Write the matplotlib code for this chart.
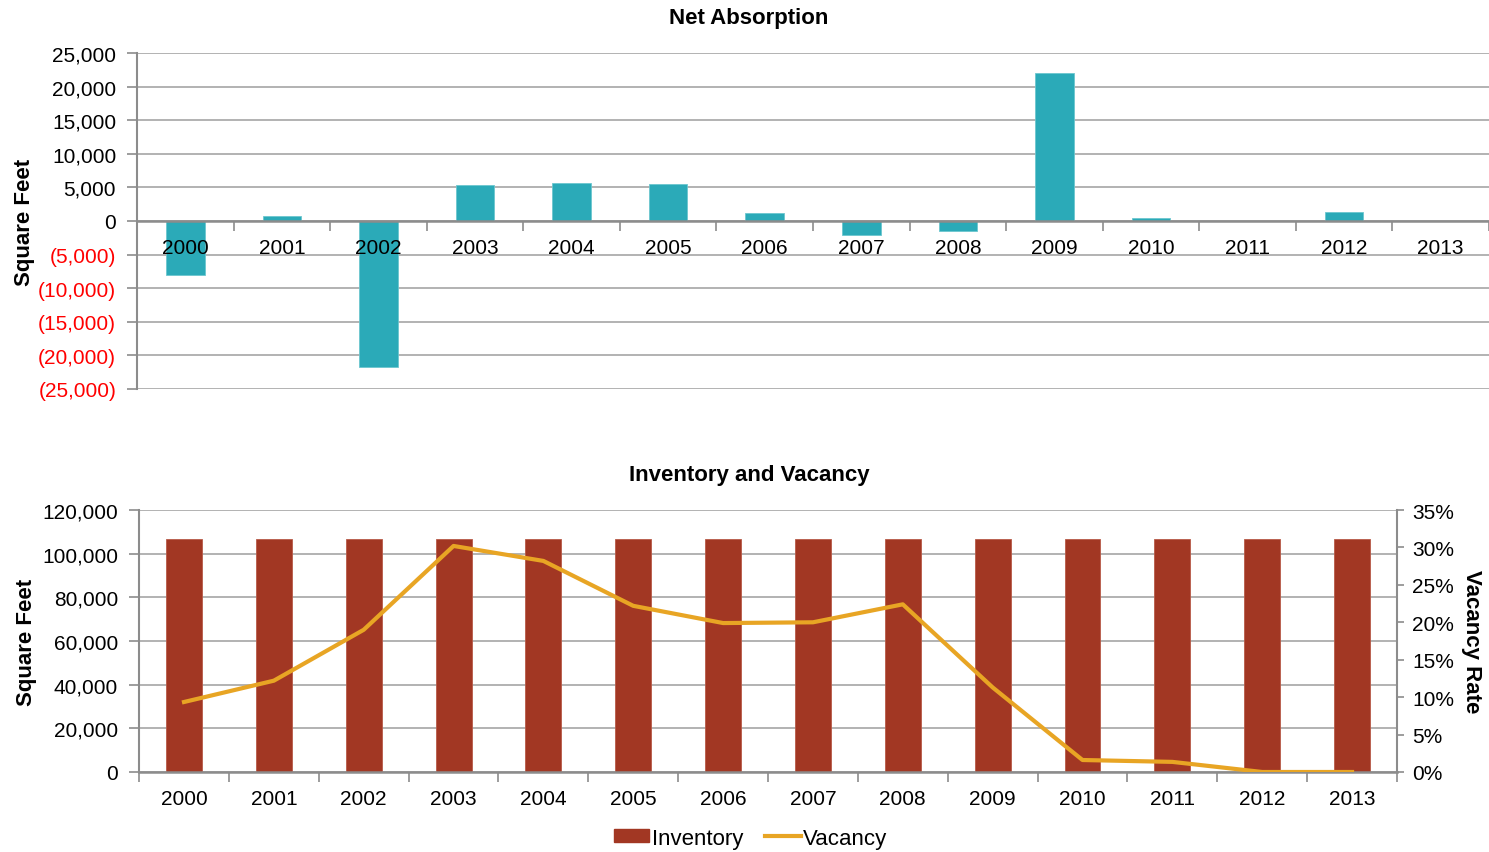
import matplotlib
matplotlib.use('Agg')
import matplotlib.pyplot as plt
import numpy as np
from matplotlib.ticker import FuncFormatter, FixedLocator
from matplotlib.patches import Patch
from matplotlib.lines import Line2D

plt.rcParams['font.family'] = ['Liberation Sans', 'DejaVu Sans']

years = ['2000', '2001', '2002', '2003', '2004', '2005', '2006',
         '2007', '2008', '2009', '2010', '2011', '2012', '2013']
net_absorption = [-8100, 740, -21700, 5340, 5640, 5500, 1150,
                  -2120, -1440, 21960, 400, 0, 1290, 0]
inventory = [106600] * 14
vacancy = [9.35, 12.2, 19.0, 30.2, 28.2, 22.2, 19.9,
           20.0, 22.4, 11.3, 1.6, 1.35, 0.0, 0.0]

TEAL = '#2BAAB8'
BRICK = '#A23723'
GOLD = '#E8A524'
GRID = '#A6A6A6'
AXIS = '#8C8C8C'
TICK_FS = 15
LABEL_FS = 16

fig = plt.figure(figsize=(14.89, 8.53), dpi=100)
x = np.arange(len(years))


def style_grid(ax):
    ax.set_axisbelow(True)
    ax.grid(axis='y', color=GRID, lw=1.2)
    ax.grid(axis='x', visible=False)
    for s in ['top', 'right']:
        ax.spines[s].set_visible(False)
    ax.spines['left'].set_color(AXIS)
    ax.spines['left'].set_linewidth(1.5)
    ax.spines['bottom'].set_color(AXIS)
    ax.spines['bottom'].set_linewidth(1.8)
    ax.tick_params(axis='y', colors=AXIS, length=7, width=1.2, pad=8,
                   labelsize=TICK_FS, labelcolor='black')
    # category boundary ticks, labels at category centres
    ax.set_xticks(x)
    ax.set_xticklabels(years)
    ax.set_xticks(np.arange(-0.5, len(years), 1.0), minor=True)
    ax.tick_params(axis='x', which='major', length=0, labelsize=TICK_FS)
    ax.tick_params(axis='x', which='minor', length=7, width=1.2, colors=AXIS)
    ax.set_xlim(-0.5, len(years) - 0.5)


# ---- Net Absorption ----
ax1 = fig.add_axes([0.092, 0.5428, 0.908, 0.3939])
ax1.bar(x, net_absorption, width=0.4, color=TEAL, edgecolor='#6CC6CF', lw=0.6)
ax1.set_ylim(-25000, 25000)
ax1.yaxis.set_major_locator(FixedLocator(np.arange(-25000, 25001, 5000)))


def absorb_fmt(v, pos):
    v = int(round(v))
    if v < 0:
        return f'({-v:,})'
    return f'{v:,}'


ax1.yaxis.set_major_formatter(FuncFormatter(absorb_fmt))
style_grid(ax1)
ax1.spines['bottom'].set_position(('data', 0))
ax1.spines['left'].set_bounds(-25000, 25000)
# year labels sit on top of the bars, so draw them as text
ax1.set_xticklabels([])
for i, yr in enumerate(years):
    ax1.annotate(yr, (i, 0), xytext=(0, -19), textcoords='offset points',
                 xycoords=('data', 'data'), ha='center', va='center',
                 fontsize=TICK_FS, zorder=5)
ax1.set_xlim(-0.5, len(years) - 0.5)
for lbl, v in zip(ax1.get_yticklabels(), np.arange(-25000, 25001, 5000)):
    if v < 0:
        lbl.set_color('#FF0000')
ax1.set_ylabel('Square Feet', fontsize=LABEL_FS, fontweight='bold', labelpad=2)
fig.text(0.503, 0.978, 'Net Absorption', fontsize=16, fontweight='bold',
         ha='center', va='center')

# ---- Inventory and Vacancy ----
ax2 = fig.add_axes([0.0934, 0.0938, 0.8448, 0.3071])
ax2.bar(x, inventory, width=0.4, color=BRICK, edgecolor='#B85A48', lw=0.6)
ax2.set_ylim(0, 120000)
ax2.yaxis.set_major_locator(FixedLocator(np.arange(0, 120001, 20000)))
ax2.yaxis.set_major_formatter(FuncFormatter(lambda v, p: f'{int(v):,}'))
style_grid(ax2)
ax2.tick_params(axis='x', which='major', pad=12)
ax2.set_ylabel('Square Feet', fontsize=LABEL_FS, fontweight='bold', labelpad=4)
fig.text(0.503, 0.443, 'Inventory and Vacancy', fontsize=16, fontweight='bold',
         ha='center', va='center')

ax3 = ax2.twinx()
ax3.plot(x, vacancy, color=GOLD, lw=3, solid_joinstyle='round')
ax3.set_ylim(0, 35)
ax3.yaxis.set_major_locator(FixedLocator(np.arange(0, 36, 5)))
ax3.yaxis.set_major_formatter(FuncFormatter(lambda v, p: f'{int(v)}%'))
for s in ['top', 'left', 'bottom']:
    ax3.spines[s].set_visible(False)
ax3.spines['right'].set_color(AXIS)
ax3.spines['right'].set_linewidth(1.5)
ax3.tick_params(axis='y', colors=AXIS, length=5, width=1.2, pad=6,
                labelsize=TICK_FS, labelcolor='black')
ax3.set_ylabel('Vacancy Rate', fontsize=LABEL_FS, fontweight='bold',
               rotation=270, labelpad=20)

handles = [Patch(facecolor=BRICK, edgecolor=BRICK),
           Line2D([0], [0], color=GOLD, lw=3)]
fig.legend(handles, ['Inventory', 'Vacancy'], loc='center',
           bbox_to_anchor=(0.504, 0.0164), ncol=2, frameon=False,
           fontsize=16, handlelength=1.6, handleheight=0.5,
           handletextpad=0.1, columnspacing=1.0)

fig.savefig('out.png', dpi=100)
